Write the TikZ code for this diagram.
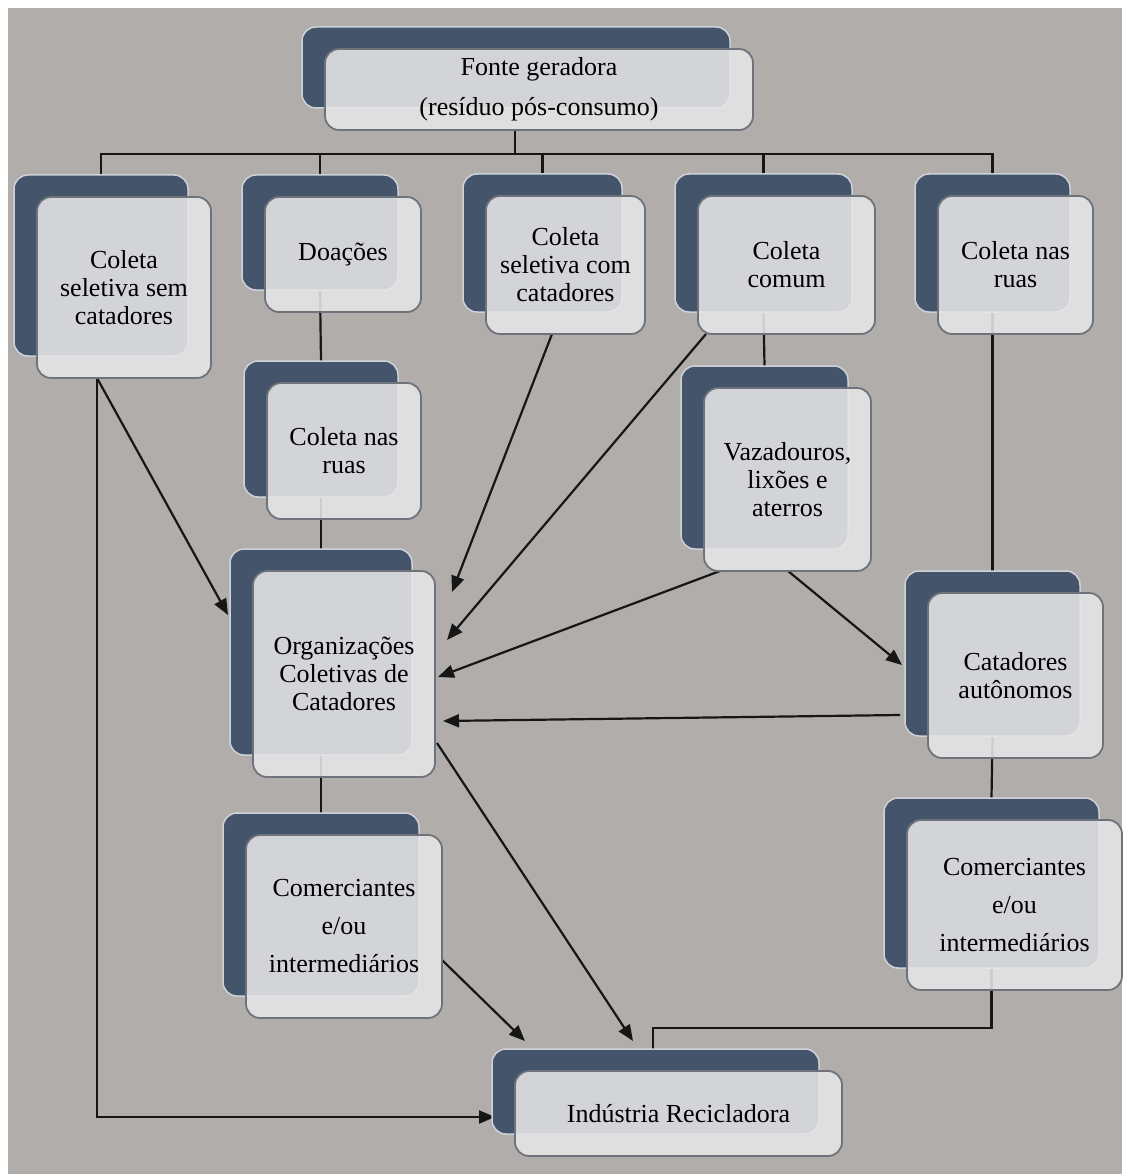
\documentclass[tikz,border=0pt]{standalone}
\usepackage{fontspec}
\setmainfont{Liberation Serif}
\usetikzlibrary{arrows.meta,calc}
\pgfdeclarelayer{bglayer}
\pgfdeclarelayer{linelayer}
\pgfsetlayers{bglayer,linelayer,main}
\definecolor{bggray}{HTML}{B1ADAB}
\definecolor{cardback}{HTML}{44546A}
\definecolor{cardbackedge}{HTML}{CDD2D9}
\definecolor{cardfront}{HTML}{E6E6E8}
\definecolor{cardfrontedge}{HTML}{6E737B}
\definecolor{connector}{HTML}{161616}
\tikzset{
  backcard/.style={rectangle, rounded corners=14pt, fill=cardback, draw=cardbackedge, line width=1.5pt, inner sep=0pt, outer sep=0pt},
  frontcard/.style={rectangle, rounded corners=14pt, fill=cardfront, fill opacity=0.88, text opacity=1, draw=cardfrontedge, draw opacity=1, line width=1.8pt, inner sep=0pt, outer sep=0pt, align=center, font=\fontsize{26}{28}\selectfont},
  widelines/.style={font=\fontsize{26}{38}\selectfont},
  fontelines/.style={font=\fontsize{26}{40}\selectfont},
  conn/.style={draw=connector, line width=2.2pt},
  arr/.style={conn, -{Triangle[length=16pt,width=13pt]}},
}
\newcommand\mkcard[7]{%
  \pgfmathsetmacro\cw{#4-#2}%
  \pgfmathsetmacro\ch{#5-#3}%
  \node[backcard, minimum width=\cw pt, minimum height=\ch pt] (#1b) at ({(#2+#4)/2-23},{(#3+#5)/2-22}) {};
  \node[frontcard, minimum width=\cw pt, minimum height=\ch pt, #6] (#1) at ({(#2+#4)/2},{(#3+#5)/2}) {#7};
}
\begin{document}
\begin{tikzpicture}[x=1pt,y=-1pt]
\useasboundingbox (0,0) rectangle (1122,1174);
\begin{pgfonlayer}{bglayer}
  \fill[white] (0,0) rectangle (1122,1174);
  \fill[bggray] (8,8) rectangle (1122,1174);
\end{pgfonlayer}

\mkcard{fonte}{325}{49}{753}{130}{fontelines}{Fonte geradora\\(resíduo pós-consumo)}
\mkcard{sem}{37}{197}{211}{378}{}{Coleta\\seletiva sem\\catadores}
\mkcard{doa}{265}{197}{421}{312}{}{Doações}
\mkcard{com}{486}{196}{645}{334}{}{Coleta\\seletiva com\\catadores}
\mkcard{comum}{698}{196}{875}{334}{}{Coleta\\comum}
\mkcard{ruasR}{938}{196}{1093}{334}{}{Coleta nas\\ruas}
\mkcard{ruasL}{267}{383}{421}{519}{}{Coleta nas\\ruas}
\mkcard{vaz}{704}{388}{871}{571}{}{Vazadouros,\\lixões e\\aterros}
\mkcard{org}{253}{571}{435}{777}{}{Organizações\\Coletivas de\\Catadores}
\mkcard{cat}{928}{593}{1103}{758}{}{Catadores\\autônomos}
\mkcard{comL}{246}{835}{442}{1018}{widelines}{Comerciantes\\e/ou\\intermediários}
\mkcard{comR}{907}{820}{1122}{990}{widelines}{Comerciantes\\e/ou\\intermediários}
\mkcard{ind}{515}{1071}{842}{1156}{}{Indústria Recicladora}

\begin{pgfonlayer}{linelayer}
  % tree from the source
  \coordinate (bus) at ($(fonte.south west)+(190,24)$);
  \draw[conn] ($(fonte.south west)+(190,0)$) -- (bus);
  \draw[conn] (semb.north) -- ++(0,-21) -| (ruasRb.north);
  \draw[conn] (doab.north) -- ++(0,-21);
  \draw[conn] (comb.north) -- ++(0,-21);
  \draw[conn] (comumb.north) -- ++(0,-21);
  % vertical links
  \draw[conn] (doab.south) -- (ruasLb.north);
  \draw[conn] (ruasLb.south) -- (orgb.north);
  \draw[conn] (orgb.south) -- (comLb.north);
  \draw[conn] (comumb.south) -- (vazb.north);
  \draw[conn] (ruasRb.south) -- (catb.north);
  \draw[conn] (catb.south) -- (comRb.north);
  \draw[conn] (comRb.south) -- ++(0,60) -| ($(indb.north west)+(161,0)$);
  % arrows
  \coordinate (semout) at ($(sem.south west)+(60,0)$);
  \draw[arr] (semout) -- ($(orgb.north west)+(-2,66)$);
  \draw[arr] (semout) |- ($(indb.north west)+(3,68)$);
  \draw[arr] ($(com.south west)+(66,0)$) -- ($(org.north east)+(17,21)$);
  \draw[arr] ($(comum.south west)+(8,0)$) -- ($(org.north east)+(12,69)$);
  \draw[arr] ($(vaz.south west)+(16,0)$) -- ($(org.north east)+(3,106)$);
  \draw[arr] ($(vaz.south west)+(84,0)$) -- ($(catb.north west)+(-3,94)$);
  \draw[arr] ($(catb.north west)+(-5,144)$) -- ($(org.north east)+(8,150)$);
  \draw[arr] ($(org.north east)+(2,172)$) -- ($(indb.north west)+(141,-8)$);
  \draw[arr] ($(comL.north east)+(0,125)$) -- ($(indb.north west)+(33,-8)$);
\end{pgfonlayer}
\end{tikzpicture}
\end{document}
